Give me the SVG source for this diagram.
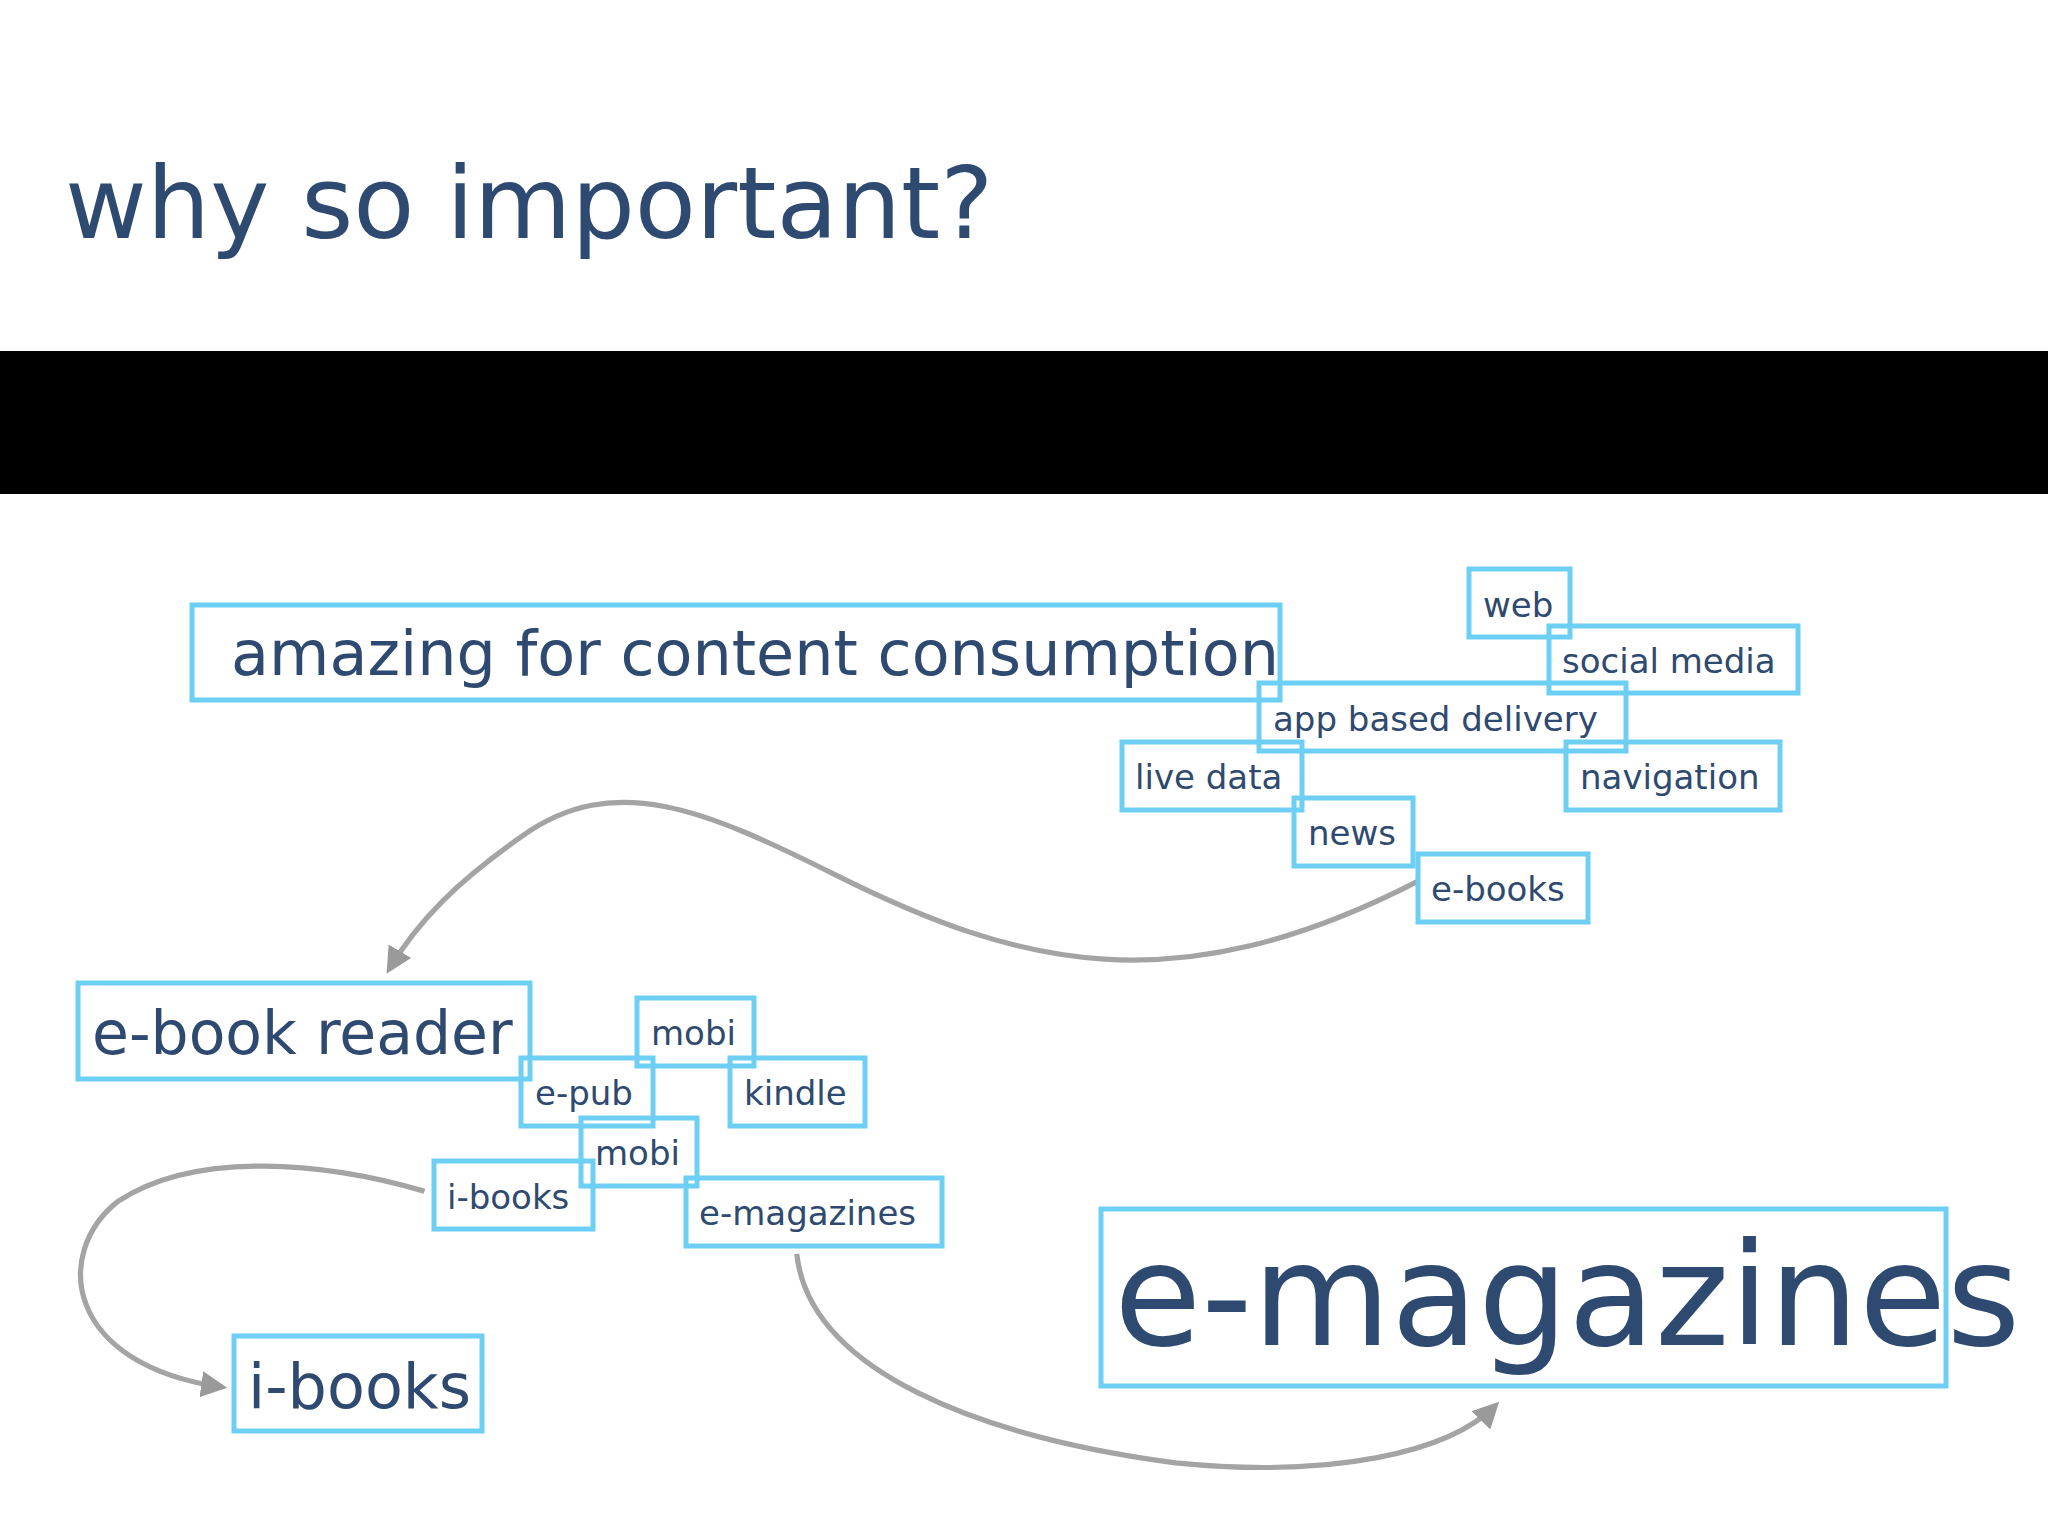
<svg xmlns="http://www.w3.org/2000/svg" width="2048" height="1536" viewBox="0 0 2048 1536">
<defs>
<marker id="ah" viewBox="0 0 10 10" refX="8" refY="5" markerWidth="5" markerHeight="5" orient="auto" markerUnits="strokeWidth">
<path d="M0,0 L10,5 L0,10 Z" fill="#9a9a9a"/>
</marker>
<style>
.b{fill:none;stroke:#6dcff4;stroke-width:5}
.t{font-family:"DejaVu Sans","Liberation Sans",sans-serif;fill:#2f4a70}
.s{font-size:34px}
.c{fill:none;stroke:#a4a4a4;stroke-width:4;marker-end:url(#ah)}
</style>
</defs>
<rect width="2048" height="1536" fill="#fff"/>
<text class="t" x="65" y="238" font-size="100">why so important?</text>
<rect x="0" y="351" width="2048" height="143" fill="#000"/>
<g id="connectors" transform="scale(1.30612)">
<path class="c" d="M1085,675 C900,770 780,740 640,670 C540,620 470,590 400,640 C350,675 320,705 298,742"/>
<path class="c" d="M325,912 C250,890 150,880 90,920 C40,960 50,1045 170,1062"/>
<path class="c" d="M610,960 C620,1050 750,1100 900,1120 C1020,1132 1110,1112 1145,1076"/>
</g>
<g id="n-amazing"><rect class="b" x="192" y="605" width="1088" height="95"/><text class="t" x="231" y="675" font-size="62">amazing for content consumption</text></g>
<g id="n-web"><rect class="b" x="1469" y="569" width="101" height="68"/><text class="t s" x="1483" y="617">web</text></g>
<g id="n-social"><rect class="b" x="1549" y="626" width="249" height="67"/><text class="t s" x="1562" y="673">social media</text></g>
<g id="n-app"><rect class="b" x="1259" y="683" width="367" height="68"/><text class="t s" x="1273" y="731">app based delivery</text></g>
<g id="n-live"><rect class="b" x="1122" y="742" width="180" height="68"/><text class="t s" x="1135" y="789">live data</text></g>
<g id="n-nav"><rect class="b" x="1566" y="742" width="214" height="68"/><text class="t s" x="1580" y="789">navigation</text></g>
<g id="n-news"><rect class="b" x="1294" y="798" width="119" height="68"/><text class="t s" x="1308" y="845">news</text></g>
<g id="n-ebooks"><rect class="b" x="1418" y="854" width="170" height="68"/><text class="t s" x="1431" y="901">e-books</text></g>
<g id="n-reader"><rect class="b" x="78" y="983" width="452" height="96"/><text class="t" x="92" y="1054" font-size="60">e-book reader</text></g>
<g id="n-mobi1"><rect class="b" x="637" y="998" width="117" height="68"/><text class="t s" x="651" y="1045">mobi</text></g>
<g id="n-epub"><rect class="b" x="521" y="1058" width="132" height="68"/><text class="t s" x="535" y="1105">e-pub</text></g>
<g id="n-kindle"><rect class="b" x="730" y="1058" width="135" height="68"/><text class="t s" x="744" y="1105">kindle</text></g>
<g id="n-mobi2"><rect class="b" x="581" y="1118" width="116" height="68"/><text class="t s" x="595" y="1165">mobi</text></g>
<g id="n-ibooks-s"><rect class="b" x="434" y="1161" width="159" height="68"/><text class="t s" x="447" y="1209">i-books</text></g>
<g id="n-emag-s"><rect class="b" x="686" y="1178" width="256" height="68"/><text class="t s" x="699" y="1225">e-magazines</text></g>
<g id="n-ibooks"><rect class="b" x="234" y="1336" width="248" height="95"/><text class="t" x="248" y="1408" font-size="62">i-books</text></g>
<g id="n-emag"><rect class="b" x="1101" y="1209" width="845" height="177"/><text class="t" x="1114" y="1345" font-size="142">e-magazines</text></g>
</svg>
